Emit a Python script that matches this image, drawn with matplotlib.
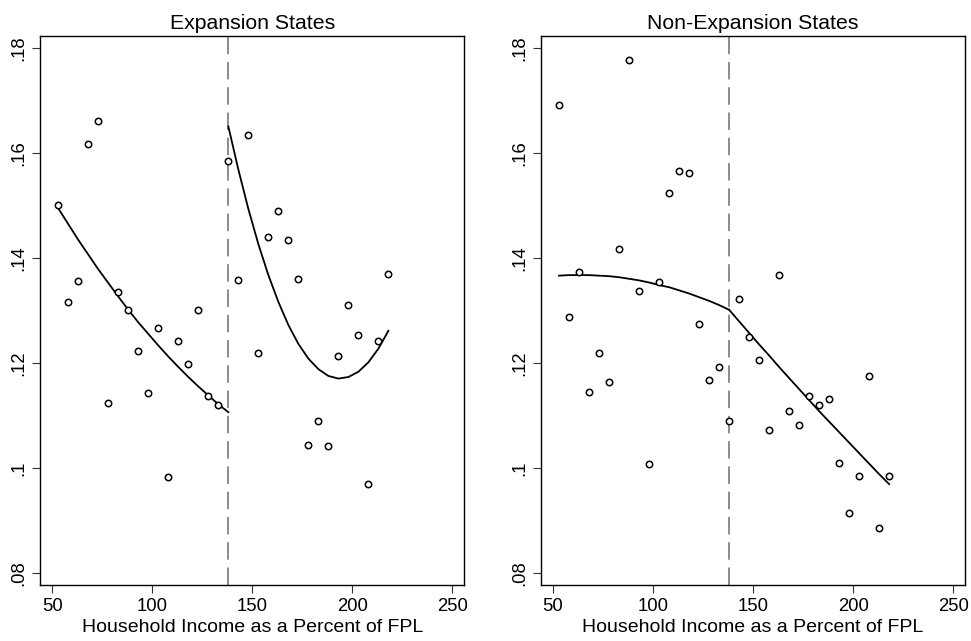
import numpy as np
import matplotlib
matplotlib.use("Agg")
import matplotlib.pyplot as plt

plt.rcParams['font.family'] = ['Liberation Sans', 'DejaVu Sans']

cutoff = 138
bins = [53, 58, 63, 68, 73, 78, 83, 88, 93, 98, 103, 108, 113, 118, 123, 128, 133,
        138, 143, 148, 153, 158, 163, 168, 173, 178, 183, 188, 193, 198, 203, 208, 213, 218]

# binned means
exp_y = [.1502, .1316, .1357, .1618, .1662, .1124, .1335, .1302, .1223, .1144, .1267, .0983,
         .1243, .1199, .1302, .1137, .1120,
         .1585, .1358, .1634, .1220, .1441, .1491, .1435, .1361, .1044, .1091, .1042, .1214,
         .1312, .1254, .0971, .1242, .1370]
nonexp_y = [.1691, .1289, .1373, .1145, .1219, .1164, .1418, .1777, .1337, .1009, .1354, .1524,
            .1567, .1562, .1275, .1168, .1193,
            .1090, .1322, .1250, .1206, .1073, .1369, .1110, .1083, .1138, .1121, .1132, .1011,
            .0915, .0986, .1175, .0886, .0986]

# fitted curves, read at the bin centres (left piece ends at the cutoff)
fit_left_x = [53, 58, 63, 68, 73, 78, 83, 88, 93, 98, 103, 108, 113, 118, 123, 128, 133, 138]
fit_right_x = [138, 143, 148, 153, 158, 163, 168, 173, 178, 183, 188, 193, 198, 203, 208, 213, 218]
exp_fit_left = [.1495, .1465, .1435, .1407, .1379, .1353, .1327, .1302, .1278, .1256, .1234,
                .1213, .1193, .1174, .1156, .1139, .1122, .1107]
exp_fit_right = [.1651, .1569, .1494, .1427, .1368, .1317, .1273, .1237, .1209, .1189, .1176,
                 .1171, .1174, .1184, .1202, .1228, .1262]
nonexp_fit_left = [.1367, .1368, .1368, .1368, .1367, .1366, .1364, .1361, .1358, .1354, .1349,
                   .1345, .1339, .1333, .1326, .1319, .1311, .1302]
nonexp_fit_right = [.1302, .1280, .1258, .1236, .1215, .1193, .1172, .1151, .1130, .1109, .1089,
                    .1069, .1049, .1029, .1009, .0989, .0970]

panels = [
    ("Expansion States", exp_y, exp_fit_left, exp_fit_right),
    ("Non-Expansion States", nonexp_y, nonexp_fit_left, nonexp_fit_right),
]
yticks = [.08, .1, .12, .14, .16, .18]
ytick_labels = ['.08', '.1', '.12', '.14', '.16', '.18']
xticks = [50, 100, 150, 200, 250]

fig = plt.figure(figsize=(9.71, 6.41), dpi=100)
lefts = [0.0415, 0.5572]

for left, (title, y, fl, fr) in zip(lefts, panels):
    ax = fig.add_axes([left, 0.0874, 0.4368, 0.857])
    ax.plot(bins, y, 'o', ms=4.6, mfc='white', mec='black', mew=1.1, zorder=3)
    ax.plot(fit_left_x, fl, color='black', lw=1.3, zorder=2)
    ax.plot(fit_right_x, fr, color='black', lw=1.3, zorder=2)
    ax.axvline(cutoff, color='#8c8c8c', lw=1.4, dashes=(9, 4), zorder=1)

    ax.set_xlim(44, 256)
    ax.set_ylim(0.0778, 0.1824)
    ax.set_xticks(xticks)
    ax.set_yticks(yticks)
    ax.set_yticklabels(ytick_labels)
    ax.tick_params(axis='both', length=5.5, width=0.8, color='#333333',
                   labelsize=13.3, pad=4)
    ax.tick_params(axis='y', labelrotation=90)
    for lab in ax.get_yticklabels():
        lab.set_va('center')
    for sp in ax.spines.values():
        sp.set_linewidth(1.0)
        sp.set_color('black')
    ax.set_title(title, fontsize=15.3, pad=5)
    ax.set_xlabel("Household Income as a Percent of FPL", fontsize=14, labelpad=3)

fig.savefig('out.png', dpi=100)
